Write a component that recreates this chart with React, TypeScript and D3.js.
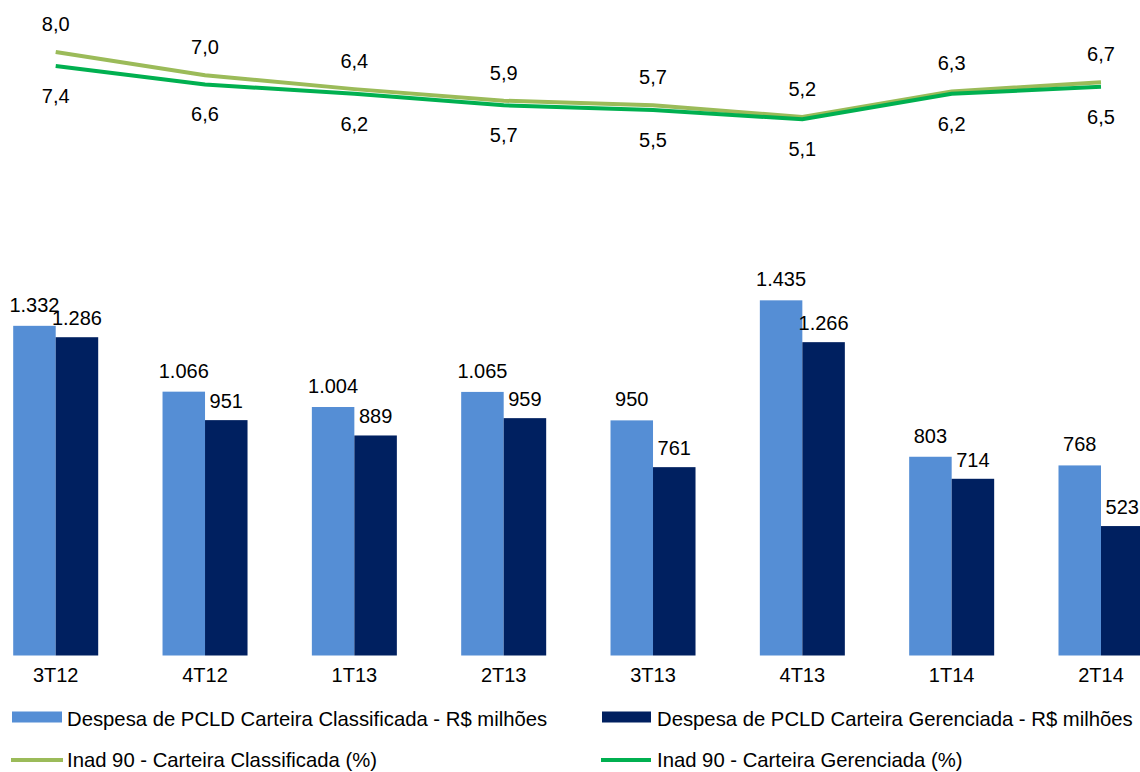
import * as d3 from "d3";

const quarters = ["3T12", "4T12", "1T13", "2T13", "3T13", "4T13", "1T14", "2T14"];
const pcldClassificada = [1332, 1066, 1004, 1065, 950, 1435, 803, 768];
const pcldGerenciada = [1286, 951, 889, 959, 761, 1266, 714, 523];
const inadClassificada = [8.0, 7.0, 6.4, 5.9, 5.7, 5.2, 6.3, 6.7];
const inadGerenciada = [7.4, 6.6, 6.2, 5.7, 5.5, 5.1, 6.2, 6.5];

const legendBars = [
  "Despesa de PCLD Carteira Classificada - R$ milhões",
  "Despesa de PCLD Carteira Gerenciada - R$ milhões",
];
const legendLines = [
  "Inad 90 - Carteira Classificada (%)",
  "Inad 90 - Carteira Gerenciada (%)",
];

const W = 1140;
const H = 772;
const FONT = "'Liberation Sans', Arial, sans-serif";
const LIGHT = "#558ED5";
const DARK = "#002060";
const OLIVE = "#9BBB59";
const GREEN = "#00B050";

const fmtInt = (v: number) => d3.format(",")(v).replace(/,/g, ".");
const fmtPct = (v: number) => v.toFixed(1).replace(".", ",");

export default function App() {
  const x = d3.scalePoint<string>().domain(quarters).range([55.7, 1101]);
  const sub = d3.scaleBand<string>().domain(["c", "g"]).range([-42.5, 42.5]);
  const yBar = d3.scaleLinear().domain([0, 1600]).range([655.5, 655.5 - 1600 * 0.2475]);
  const yLine = d3.scaleLinear().domain([0, 10]).range([52 + 8 * 23.2, 52 - 2 * 23.2]);

  const line = d3
    .line<number>()
    .x((_, i) => x(quarters[i]) as number)
    .y((d) => yLine(d));

  const series = [
    { key: "c", values: pcldClassificada, color: LIGHT, dy: -14 },
    { key: "g", values: pcldGerenciada, color: DARK, dy: -12 },
  ];

  return (
    <svg
      width={W}
      height={H}
      style={{ position: "absolute", left: 0, top: 0, background: "#fff" }}
      fontFamily={FONT}
      fontSize={20}
    >
      {series.map((s) => (
        <g key={s.key}>
          {s.values.map((v, i) => {
            const bx = (x(quarters[i]) as number) + (sub(s.key) as number);
            return (
              <g key={i}>
                <rect
                  x={bx}
                  y={yBar(v)}
                  width={sub.bandwidth()}
                  height={yBar(0) - yBar(v)}
                  fill={s.color}
                />
                <text
                  x={bx + sub.bandwidth() / 2}
                  y={yBar(v) + s.dy}
                  textAnchor="middle"
                  fill="#000"
                >
                  {fmtInt(v)}
                </text>
              </g>
            );
          })}
        </g>
      ))}

      {quarters.map((q) => (
        <text key={q} x={x(q)} y={682} textAnchor="middle" fill="#000">
          {q}
        </text>
      ))}

      <path d={line(inadClassificada) ?? ""} fill="none" stroke={OLIVE} strokeWidth={4} />
      <path d={line(inadGerenciada) ?? ""} fill="none" stroke={GREEN} strokeWidth={4} />

      {inadClassificada.map((v, i) => (
        <text key={"c" + i} x={x(quarters[i])} y={yLine(v) - 21} textAnchor="middle" fill="#000">
          {fmtPct(v)}
        </text>
      ))}
      {inadGerenciada.map((v, i) => (
        <text key={"g" + i} x={x(quarters[i])} y={yLine(v) + 37} textAnchor="middle" fill="#000">
          {fmtPct(v)}
        </text>
      ))}

      <g fontSize={20.3}>
        <rect x={12} y={711.5} width={50} height={11} fill={LIGHT} />
        <text x={67} y={726}>{legendBars[0]}</text>
        <rect x={602} y={711.5} width={49} height={11} fill={DARK} />
        <text x={657} y={726}>{legendBars[1]}</text>
        <line x1={11} x2={63} y1={760} y2={760} stroke={OLIVE} strokeWidth={4} />
        <text x={67} y={767}>{legendLines[0]}</text>
        <line x1={601} x2={651} y1={760} y2={760} stroke={GREEN} strokeWidth={4} />
        <text x={657} y={767}>{legendLines[1]}</text>
      </g>
    </svg>
  );
}
